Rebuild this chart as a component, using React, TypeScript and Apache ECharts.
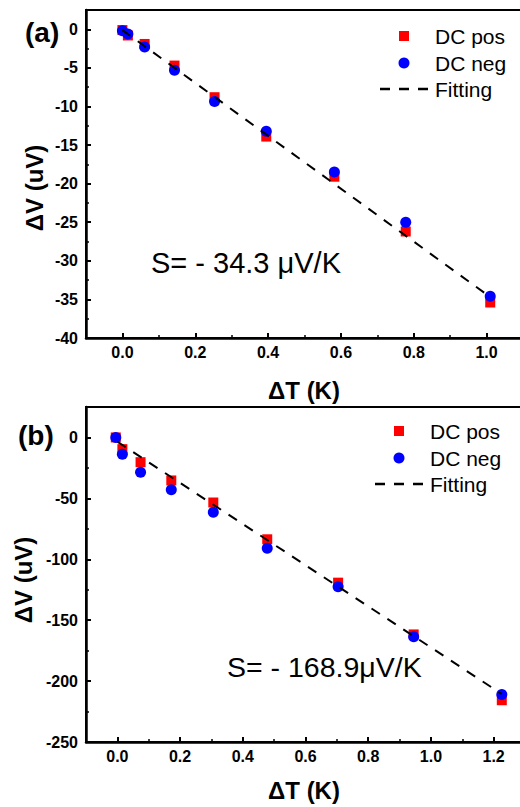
import React, { useEffect, useRef } from "react";
import * as echarts from "echarts";

// Panel (a)
const dTa = [0, 0.015, 0.061, 0.143, 0.253, 0.395, 0.582, 0.778, 1.01];
const posA = [-0.1, -0.8, -1.9, -4.7, -8.8, -13.9, -19.1, -26.2, -35.4];
const negA = [-0.2, -0.6, -2.3, -5.3, -9.35, -13.2, -18.5, -25.0, -34.6];
const fitAx = [0, 1.01];
const fitAy = [-0.1, -34.7];

// Panel (b)
const dTb = [-0.005, 0.016, 0.074, 0.172, 0.306, 0.478, 0.704, 0.945, 1.226];
const posB = [0, -9.6, -20.3, -35.3, -53.4, -83.6, -119.2, -161.7, -215.7];
const negB = [0, -13.7, -28.5, -43, -61.4, -91, -122.5, -163.6, -211];
const fitBx = [0, 1.226];
const fitBy = [-3.5, -210.6];

const legendNames = ["DC pos", "DC neg", "Fitting"];
const slopeTexts = ["S= - 34.3 μV/K", "S= - 168.9μV/K"];
const panelLabels = ["(a)", "(b)"];
const xTitle = "ΔT (K)";
const yTitle = "ΔV (uV)";

const FONT = '"Liberation Sans", Arial, sans-serif';
const RED = "#ff0000";
const BLUE = "#0000ff";

const zip = (xs: number[], ys: number[]) => xs.map((x, i) => [x, ys[i]]);

function xAxis(gridIndex: number, min: number, max: number, splitNumber: number) {
  return {
    type: "value",
    gridIndex,
    min,
    max,
    splitNumber,
    axisLine: { show: true, onZero: false, lineStyle: { color: "#000", width: 2.5 } },
    axisTick: { show: true, inside: true, length: 5, lineStyle: { color: "#000", width: 2 } },
    minorTick: { show: true, splitNumber: 2, length: 3, lineStyle: { color: "#000", width: 1.5 } },
    axisLabel: {
      showMinLabel: false,
      showMaxLabel: false,
      formatter: (v: number) => v.toFixed(1),
      color: "#000",
      fontWeight: "bold",
      fontSize: 16,
      fontFamily: FONT,
      margin: 6,
    },
    splitLine: { show: false },
    minorSplitLine: { show: false },
  };
}

function yAxis(gridIndex: number, min: number, max: number, interval: number) {
  return {
    type: "value",
    gridIndex,
    min,
    max,
    interval,
    axisLine: { show: true, onZero: false, lineStyle: { color: "#000", width: 2.5 } },
    axisTick: { show: true, inside: true, length: 5, lineStyle: { color: "#000", width: 2 } },
    minorTick: { show: true, splitNumber: 2, length: 3, lineStyle: { color: "#000", width: 1.5 } },
    axisLabel: {
      showMaxLabel: false,
      color: "#000",
      fontWeight: "bold",
      fontSize: 16,
      fontFamily: FONT,
      margin: 8,
    },
    splitLine: { show: false },
    minorSplitLine: { show: false },
  };
}

function txt(x: number, y: number, text: string, font: string, align = "left", rotation = 0) {
  return {
    type: "text",
    x,
    y,
    rotation,
    silent: true,
    style: {
      text,
      font,
      fill: "#000",
      align,
      verticalAlign: "middle",
      textAlign: align,
      textVerticalAlign: "middle",
    },
  };
}

function legend(iconX: number, y0: number, textX: number, lineX1: number, lineX2: number) {
  const f = `21px ${FONT}`;
  return [
    { type: "rect", shape: { x: iconX - 5, y: y0 - 5, width: 10, height: 10 }, style: { fill: RED } },
    txt(textX, y0, legendNames[0], f),
    { type: "circle", shape: { cx: iconX, cy: y0 + 27, r: 5.5 }, style: { fill: BLUE } },
    txt(textX, y0 + 27, legendNames[1], f),
    {
      type: "line",
      shape: { x1: lineX1, y1: y0 + 53, x2: lineX2, y2: y0 + 53 },
      style: { stroke: "#000", lineWidth: 2.5, lineDash: [10, 9] },
    },
    txt(textX, y0 + 53, legendNames[2], f),
  ];
}

function scatter(name: string, xi: number, data: number[][], symbol: string, size: number, color: string) {
  return {
    name,
    type: "scatter",
    xAxisIndex: xi,
    yAxisIndex: xi,
    data,
    symbol,
    symbolSize: size,
    itemStyle: { color, opacity: 1 },
    z: 3,
  };
}

function fit(xi: number, data: number[][]) {
  return {
    name: legendNames[2],
    type: "line",
    xAxisIndex: xi,
    yAxisIndex: xi,
    data,
    symbol: "none",
    lineStyle: { color: "#000", width: 2, type: [10, 9] },
    z: 4,
  };
}

export default function App() {
  const ref = useRef<HTMLDivElement>(null);
  useEffect(() => {
    const chart = echarts.init(ref.current!, null, { renderer: "svg" });
    const boldTitle = `bold 24px ${FONT}`;
    chart.setOption({
      animation: false,
      backgroundColor: "#fff",
      grid: [
        { left: 86, top: 10, right: 17, bottom: 469, show: true, borderColor: "#000", borderWidth: 2, backgroundColor: "transparent" },
        { left: 86, top: 407, right: 15, bottom: 65, show: true, borderColor: "#000", borderWidth: 2, backgroundColor: "transparent" },
      ],
      xAxis: [xAxis(0, -0.1, 1.1, 6), xAxis(1, -0.1, 1.3, 7)],
      yAxis: [yAxis(0, -40, 2.5, 5), yAxis(1, -250, 25, 50)],
      series: [
        scatter(legendNames[0], 0, zip(dTa, posA), "rect", 10, RED),
        scatter(legendNames[1], 0, zip(dTa, negA), "circle", 11, BLUE),
        fit(0, zip(fitAx, fitAy)),
        scatter(legendNames[0], 1, zip(dTb, posB), "rect", 10, RED),
        scatter(legendNames[1], 1, zip(dTb, negB), "circle", 11, BLUE),
        fit(1, zip(fitBx, fitBy)),
      ],
      graphic: [
        txt(25, 32, panelLabels[0], `bold 28px ${FONT}`),
        txt(18, 435, panelLabels[1], `bold 28px ${FONT}`),
        txt(34, 188, yTitle, boldTitle, "center", Math.PI / 2),
        txt(23, 580, yTitle, boldTitle, "center", Math.PI / 2),
        txt(304, 390, xTitle, boldTitle, "center"),
        txt(304, 790, xTitle, boldTitle, "center"),
        txt(151, 263, slopeTexts[0], `29px ${FONT}`),
        txt(227, 667, slopeTexts[1], `28.5px ${FONT}`),
        ...legend(404, 36, 435, 380, 428),
        ...legend(399, 431, 430, 375, 423),
      ],
    });
    return () => chart.dispose();
  }, []);
  return (
    <div
      style={{
        position: "fixed",
        left: 0,
        top: 0,
        width: 520,
        height: 807,
        overflow: "hidden",
        background: "#fff",
      }}
    >
      <div ref={ref} style={{ width: 540, height: 807 }} />
    </div>
  );
}
